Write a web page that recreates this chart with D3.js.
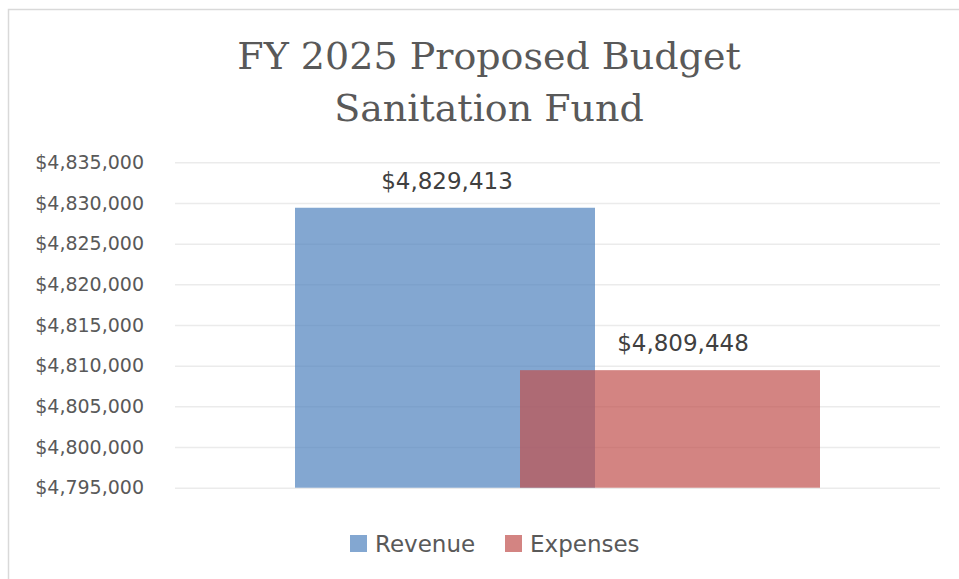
<!DOCTYPE html>
<html>
<head>
<meta charset="utf-8">
<script src="https://cdn.jsdelivr.net/npm/d3@7"></script>
<style>
  html, body { margin: 0; padding: 0; background: #fff; }
  svg { display: block; }
</style>
</head>
<body>
<svg id="chart" width="959" height="579"></svg>
<script>
const titleLines = ["FY 2025 Proposed Budget", "Sanitation Fund"];
const categories = ["FY 2025"];
const seriesNames = ["Revenue", "Expenses"];
const revenueValues = [4829413];
const expensesValues = [4809448];
const seriesColors = ["#4F81BD", "#C0504D"];
const yTicks = [4795000, 4800000, 4805000, 4810000, 4815000, 4820000, 4825000, 4830000, 4835000];

const seriesValues = [revenueValues, expensesValues];

const svg = d3.select("#chart");
const W = 959, H = 579;
const plot = { left: 175, right: 940, top: 162.3, bottom: 487.7 };
const sans = "'DejaVu Sans', 'Liberation Sans', sans-serif";

// chart border
svg.append("rect")
  .attr("x", 8.5).attr("y", 9.5)
  .attr("width", W + 10).attr("height", H + 10)
  .attr("fill", "#fff").attr("stroke", "#D9D9D9").attr("stroke-width", 1.5);

// title
const title = svg.append("text")
  .attr("text-anchor", "middle")
  .attr("font-family", "'DejaVu Serif', 'Liberation Serif', serif")
  .attr("font-size", 38)
  .attr("fill", "#595959");
titleLines.forEach((t, i) => {
  title.append("tspan").attr("x", 489).attr("y", 69 + i * 52).text(t);
});

const y = d3.scaleLinear()
  .domain([yTicks[0], yTicks[yTicks.length - 1]])
  .range([plot.bottom, plot.top]);

const x0 = d3.scaleBand()
  .domain(categories)
  .range([plot.left, plot.right])
  .padding(0);
const gapWidth = 240;               // Excel gap width around the cluster
const groupWidth = x0.bandwidth() - gapWidth;
const overlap = 0.25;
const barW = groupWidth / (seriesNames.length - overlap * (seriesNames.length - 1));
const xSeries = d3.scaleLinear()
  .domain([0, 1])
  .range([0, barW * (1 - overlap)]);
const groupStart = c => x0(c) + (x0.bandwidth() - groupWidth) / 2;

// gridlines + tick labels
const yAxis = d3.axisLeft(y).tickValues(yTicks)
  .tickSize(-(plot.right - plot.left))
  .tickPadding(31)
  .tickFormat(d => "$" + d3.format(",")(d));

const gAxis = svg.append("g")
  .attr("transform", `translate(${plot.left},0)`)
  .call(yAxis);
gAxis.select(".domain").remove();
gAxis.selectAll(".tick line")
  .attr("stroke", "#EBEBEB").attr("stroke-width", 1.5);
gAxis.selectAll(".tick text")
  .attr("font-family", sans)
  .attr("font-size", 19)
  .attr("fill", "#595959");

// bars
seriesNames.forEach((s, si) => {
  svg.append("g").selectAll("rect")
    .data(categories.map((c, ci) => ({ c, v: seriesValues[si][ci] })))
    .join("rect")
    .attr("x", d => groupStart(d.c) + xSeries(si))
    .attr("y", d => y(d.v))
    .attr("width", barW)
    .attr("height", d => y(yTicks[0]) - y(d.v))
    .attr("fill", seriesColors[si])
    .attr("fill-opacity", 0.7);
});

// data labels
seriesNames.forEach((s, si) => {
  svg.append("g").selectAll("text")
    .data(categories.map((c, ci) => ({ c, v: seriesValues[si][ci] })))
    .join("text")
    .attr("x", d => groupStart(d.c) + xSeries(si) + barW / 2 + 2 + si * 11)
    .attr("y", d => y(d.v) - 19)
    .attr("text-anchor", "middle")
    .attr("font-family", sans)
    .attr("font-size", 23)
    .attr("fill", "#404040")
    .text(d => "$" + d3.format(",")(d.v));
});

// legend
const legend = svg.append("g").attr("transform", "translate(350,535)");
const legendOffsets = [0, 155];
seriesNames.forEach((s, i) => {
  const g = legend.append("g").attr("transform", `translate(${legendOffsets[i]},0)`);
  g.append("rect").attr("width", 17).attr("height", 17)
    .attr("fill", seriesColors[i]).attr("fill-opacity", 0.7);
  g.append("text").attr("x", 25).attr("y", 17)
    .attr("font-family", sans)
    .attr("font-size", 23)
    .attr("fill", "#595959")
    .text(s);
});
</script>
</body>
</html>
